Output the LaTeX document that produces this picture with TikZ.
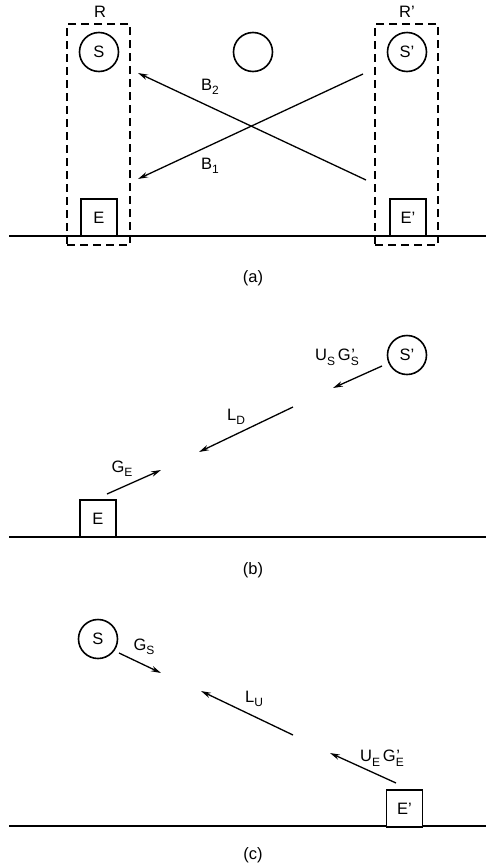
\documentclass[tikz,border=0pt]{standalone}
\usepackage{fontspec}
\setmainfont{Liberation Sans}
\usetikzlibrary{arrows.meta}
\newcommand{\lsub}[1]{\raisebox{-0.5ex}{\fontsize{12}{14}\selectfont #1}}
\newcommand{\lprsub}[1]{\rlap{\raisebox{0.1ex}{\kern0.5pt'}}\raisebox{-0.5ex}{\fontsize{12}{14}\selectfont #1}}
\begin{document}
\begin{tikzpicture}[x=1pt,y=-1pt, font=\fontsize{16.5}{19}\selectfont,
 circ/.style={draw, circle, line width=1.6pt, minimum size=39pt, inner sep=0pt},
 sbox/.style={draw, rectangle, line width=1.8pt, minimum width=36pt, minimum height=37pt, inner sep=0pt, fill=white},
 ground/.style={line width=2pt},
 region/.style={draw, line width=1.3pt, dash pattern=on 8pt off 5pt, rectangle, inner sep=0pt},
 ray/.style={line width=1.3pt, -{Stealth[length=10pt,width=5.5pt]}},
 lbl/.style={inner sep=0pt}]
\useasboundingbox (0,0) rectangle (486,868);
% ---------- (a)
\coordinate (ga1) at (9,236); \coordinate (ga2) at (486,236);
\draw[ground] (ga1) -- (ga2);
\node[region, minimum width=63pt, minimum height=221pt] (R) at (98.5,134.5) {};
\node[region, minimum width=63pt, minimum height=221pt] (Rp) at (406.5,134.5) {};
\node[lbl] (Rl) at (100,12) {R};
\node[lbl] (Rpl) at (407,12) {R'};
\node[circ] (Sa) at (99,52) {S};
\node[circ] (Ma) at (253,52) {};
\node[circ] (Spa) at (407,52) {S'};
\node[sbox] (Ea) at (99,217.5) {E};
\node[sbox] (Epa) at (408,217.5) {E'};
\coordinate (b2s) at (366,180); \coordinate (b2e) at (138,73);
\coordinate (b1s) at (363,74);  \coordinate (b1e) at (138,179);
\draw[ray] (b2s) -- (b2e);
\draw[ray] (b1s) -- (b1e);
\node[lbl] (B2) at (210,87) {B\lsub{2}};
\node[lbl] (B1) at (210,166) {B\lsub{1}};
\node[lbl] (capa) at (253,278) {(a)};
% ---------- (b)
\coordinate (gb1) at (9,537); \coordinate (gb2) at (486,537);
\draw[ground] (gb1) -- (gb2);
\node[sbox] (Eb) at (98,518.5) {E};
\node[circ] (Spb) at (407,355) {S'};
\coordinate (usa) at (382,366); \coordinate (usb) at (333,388);
\draw[ray] (usa) -- (usb);
\node[lbl] (USG) at (337,357) {U\lsub{S}\,G\lprsub{S}};
\coordinate (lda) at (293,407); \coordinate (ldb) at (199,452);
\draw[ray] (lda) -- (ldb);
\node[lbl] (LD) at (236,417) {L\lsub{D}};
\coordinate (gea) at (107,494); \coordinate (geb) at (161,470);
\draw[ray] (gea) -- (geb);
\node[lbl] (GE) at (122,469) {G\lsub{E}};
\node[lbl] (capb) at (253,570) {(b)};
% ---------- (c)
\coordinate (gc1) at (9,826); \coordinate (gc2) at (486,826);
\draw[ground] (gc1) -- (gc2);
\node[sbox] (Epc) at (404.5,808.5) {E'};
\node[circ] (Sc) at (98,639) {S};
\coordinate (gsa) at (119,653); \coordinate (gsb) at (161,673);
\draw[ray] (gsa) -- (gsb);
\node[lbl] (GS) at (144,647) {G\lsub{S}};
\coordinate (lua) at (293,735); \coordinate (lub) at (201,691);
\draw[ray] (lua) -- (lub);
\node[lbl] (LU) at (254,699) {L\lsub{U}};
\coordinate (uea) at (396,783); \coordinate (ueb) at (330,753);
\draw[ray] (uea) -- (ueb);
\node[lbl] (UEG) at (382,758) {U\lsub{E}\,G\lprsub{E}};
\node[lbl] (capc) at (253,855) {(c)};
\end{tikzpicture}
\end{document}
